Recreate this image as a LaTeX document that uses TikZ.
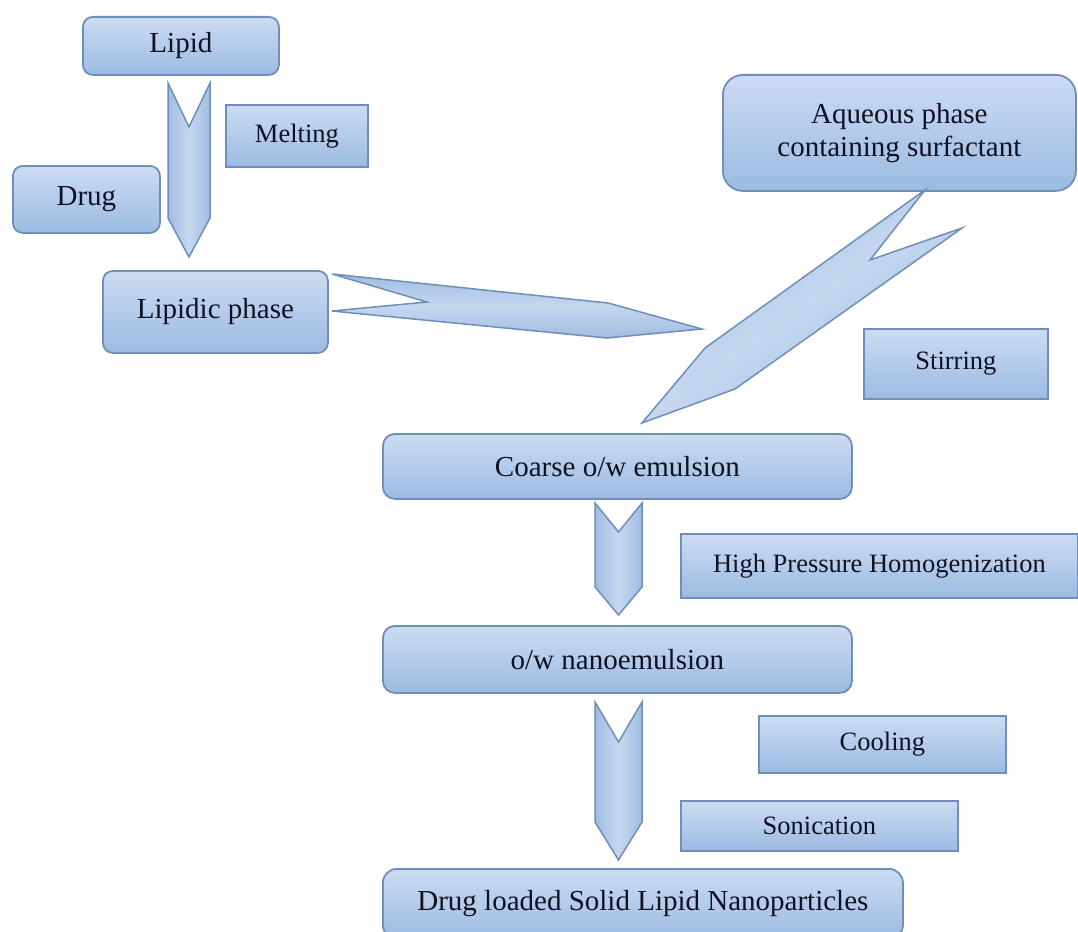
\documentclass[tikz,border=0pt]{standalone}
\usepackage{fontspec}
\setmainfont{Liberation Serif}
\definecolor{btop}{RGB}{204,220,242}
\definecolor{bbot}{RGB}{156,186,226}
\definecolor{bline}{RGB}{112,142,186}
\definecolor{amid}{RGB}{198,215,239}
\definecolor{aedge}{RGB}{160,189,226}
\definecolor{txt}{RGB}{16,18,34}
\newcommand\bigf{\fontsize{29}{33}\selectfont}
\newcommand\smallf{\fontsize{26.5}{30}\selectfont}
\tikzset{
  box/.style={draw=bline, line width=1.8pt, top color=btop, bottom color=bbot,
              inner sep=0pt, anchor=north west, text=txt, align=center},
  rbox/.style={box, rounded corners=10pt, font=\bigf},
  sbox/.style={box, font=\smallf},
  vchev/.style={draw=bline, line width=1.5pt, line join=miter,
                left color=aedge, right color=aedge, middle color=amid},
  hchev/.style={draw=bline, line width=1.5pt, line join=miter,
                top color=aedge, bottom color=aedge, middle color=amid},
}
\begin{document}
\begin{tikzpicture}[x=1pt,y=-1pt]
\clip (0,0) rectangle (1078,931);
\fill[white] (0,0) rectangle (1078,931);

% boxes
\node[rbox, minimum width=196pt, minimum height=58pt] (lipid) at (82,16) {Lipid};
\node[sbox, minimum width=142pt, minimum height=62pt] (melting) at (225,104) {Melting};
\node[rbox, minimum width=147pt, minimum height=67pt] (drug) at (12,165) {Drug};
\node[rbox, minimum width=225pt, minimum height=82pt] (lipidic) at (102,270) {Lipidic phase};
\node[rbox, rounded corners=20pt, minimum width=353pt, minimum height=116pt] (aqueous) at (722,74) {Aqueous phase\\containing surfactant};
\node[sbox, minimum width=184pt, minimum height=70pt] (stirring) at (863,328) {Stirring};
\node[rbox, rounded corners=12pt, minimum width=469pt, minimum height=65pt] (coarse) at (382,433) {Coarse o/w emulsion};
\node[sbox, minimum width=397pt, minimum height=64pt] (hph) at (680,533) {High Pressure Homogenization};
\node[rbox, rounded corners=12pt, minimum width=469pt, minimum height=67pt] (nano) at (382,625) {o/w nanoemulsion};
\node[sbox, minimum width=247pt, minimum height=57pt] (cooling) at (758,715) {Cooling};
\node[sbox, minimum width=277pt, minimum height=50pt] (sonication) at (680,800) {Sonication};
\node[rbox, rounded corners=14pt, minimum width=520pt, minimum height=70pt] (sln) at (382,868) {Drug loaded Solid Lipid Nanoparticles};

% chevron arrows
\draw[vchev] (168,83) -- (189,127) -- (210,83) -- (210,218) -- (189,257) -- (168,218) -- cycle;
\draw[hchev] (332,274) -- (608,303) -- (702,329) -- (607,338) -- (332,311) -- (427,302) -- cycle;
\draw[hchev, shading angle=35] (925,190) -- (705,348) -- (642,423) -- (735,389) -- (962,228) -- (870,260) -- cycle;
\draw[vchev] (595,503) -- (618.5,532) -- (642,503) -- (642,587) -- (618.5,615) -- (595,587) -- cycle;
\draw[vchev] (595,702) -- (618.5,742) -- (642,702) -- (642,822) -- (618.5,860) -- (595,822) -- cycle;
\end{tikzpicture}
\end{document}
